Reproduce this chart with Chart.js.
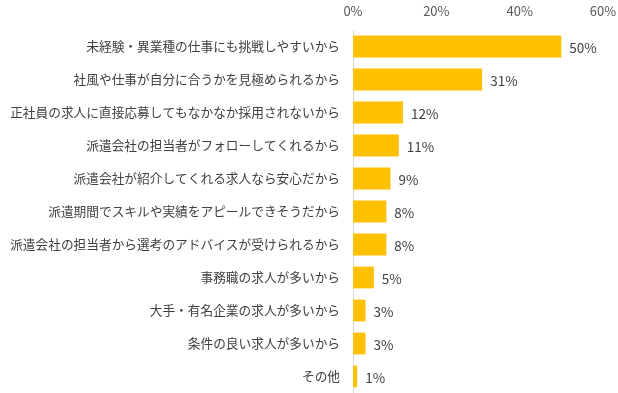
<!DOCTYPE html>
<html>
<head>
<meta charset="utf-8">
<script src="https://cdn.jsdelivr.net/npm/chart.js@4.4.1/dist/chart.umd.min.js"></script>
<style>
  html, body { margin: 0; padding: 0; background: #fff; overflow: hidden; }
  canvas { display: block; }
</style>
</head>
<body>
<canvas id="my-chart" width="618" height="393"></canvas>
<script>
// reasons (categories), top to bottom
const reasons = [
  '未経験・異業種の仕事にも挑戦しやすいから',
  '社風や仕事が自分に合うかを見極められるから',
  '正社員の求人に直接応募してもなかなか採用されないから',
  '派遣会社の担当者がフォローしてくれるから',
  '派遣会社が紹介してくれる求人なら安心だから',
  '派遣期間でスキルや実績をアピールできそうだから',
  '派遣会社の担当者から選考のアドバイスが受けられるから',
  '事務職の求人が多いから',
  '大手・有名企業の求人が多いから',
  '条件の良い求人が多いから',
  'その他'
];
// percent values
const shares = [50, 31, 12, 11, 9, 8, 8, 5, 3, 3, 1];
const xTicks = [0, 20, 40, 60];

const textColor = '#404040';
const fontFam = "'Noto Sans CJK JP', 'Noto Sans', sans-serif";

// draw value labels just past the end of each bar
const valueLabels = {
  id: 'valueLabels',
  afterDatasetsDraw(chart) {
    const ctx = chart.ctx;
    const meta = chart.getDatasetMeta(0);
    ctx.save();
    ctx.font = '13.5px ' + fontFam;
    ctx.fillStyle = textColor;
    ctx.textAlign = 'left';
    ctx.textBaseline = 'middle';
    meta.data.forEach((bar, i) => {
      ctx.fillText(shares[i] + '%', bar.x + 8, bar.y + 1);
    });
    ctx.restore();
  }
};

const myChart = document.getElementById('my-chart').getContext('2d');
const barChart = new Chart(myChart, {
  type: 'bar',
  data: {
    labels: reasons,
    datasets: [{
      data: shares,
      backgroundColor: '#FFC000',
      borderWidth: 0,
      barPercentage: 0.66,
      categoryPercentage: 1.0
    }]
  },
  options: {
    indexAxis: 'y',
    responsive: false,
    animation: false,
    layout: {
      padding: { left: 0, right: 15, top: 0, bottom: 0 }
    },
    plugins: {
      legend: { display: false },
      tooltip: { enabled: false }
    },
    scales: {
      x: {
        position: 'top',
        min: 0,
        max: 60,
        afterBuildTicks: (axis) => { axis.ticks = xTicks.map(v => ({ value: v })); },
        afterFit: (axis) => { axis.height = 30; axis.paddingLeft = 0; axis.paddingRight = 0; },
        grid: { display: false, drawTicks: false },
        border: { display: false },
        ticks: {
          padding: 11,
          color: '#595959',
          font: { size: 13, family: fontFam },
          callback: (v) => v + '%'
        }
      },
      y: {
        afterFit: (axis) => {
          axis.width = 353;
          axis.paddingTop = 0;
          axis.paddingBottom = 0;
        },
        grid: { display: false, drawTicks: false },
        border: { display: true, color: '#d9d9d9', width: 1 },
        ticks: {
          padding: 13,
          color: textColor,
          font: { size: 12.7, family: fontFam }
        }
      }
    }
  },
  plugins: [valueLabels]
});
</script>
</body>
</html>
